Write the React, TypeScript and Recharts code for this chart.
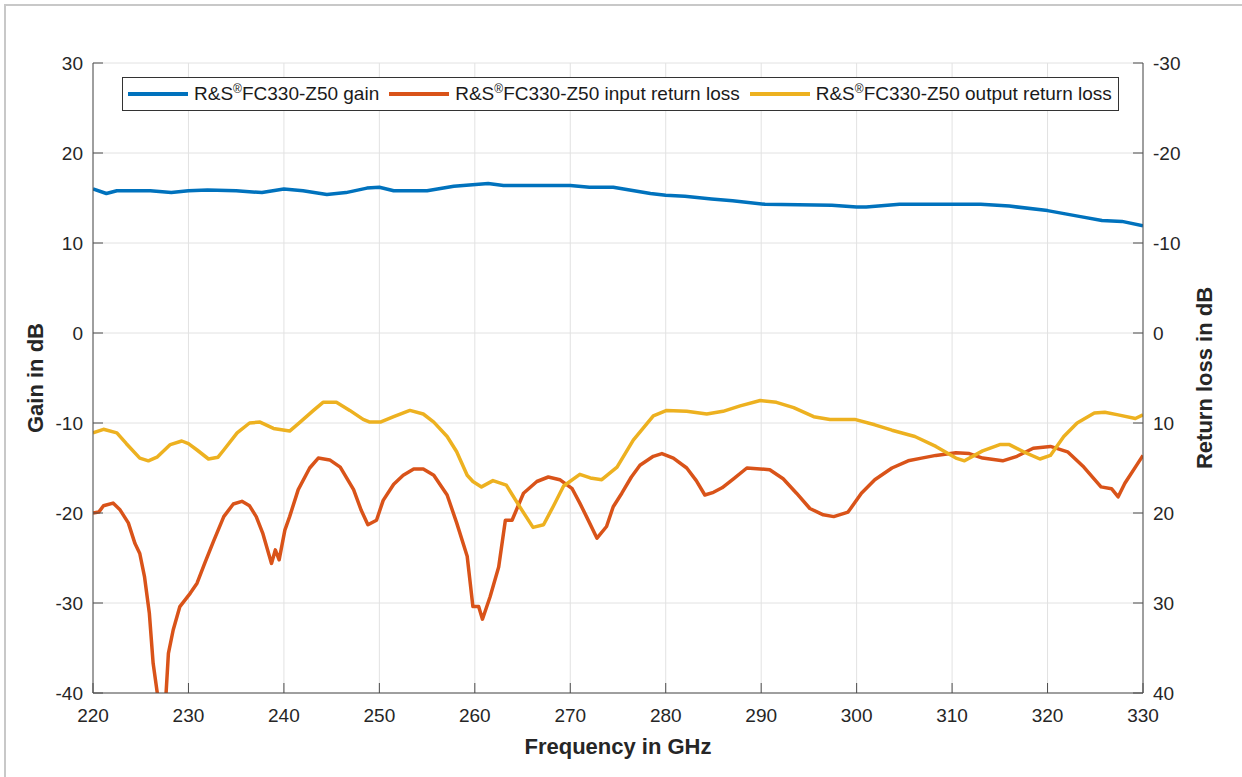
import React from 'react';
import { LineChart, Line, XAxis, YAxis, CartesianGrid, Legend, Label } from 'recharts';

const FONT = '"Liberation Sans", Arial, Helvetica, sans-serif';
const AXIS = '#4d4d4d';
const TEXT = '#262626';
const GRID = '#e2e2e2';

const seriesNames = [
    'R&S®FC330-Z50 gain',
    'R&S®FC330-Z50 input return loss',
    'R&S®FC330-Z50 output return loss',
];
const seriesColors = ['#0072BD', '#D95319', '#EDB120'];

const freqTicks = [220, 230, 240, 250, 260, 270, 280, 290, 300, 310, 320, 330];
const gainTicks = [-40, -30, -20, -10, 0, 10, 20, 30];
const lossTicks = [-30, -20, -10, 0, 10, 20, 30, 40];

// gain (left axis)
const gainFreq = [220, 221.4, 222.5, 226, 228.2, 230, 232, 235, 237.7, 240, 242, 244.5, 246.5, 248.7, 250, 251.5, 255, 257.8, 261.4, 263, 270, 272, 274.5, 278.4, 280, 282, 284.8, 287, 290.4, 297.4, 300, 301, 304.5, 310, 313, 316, 320, 323.6, 325.7, 327.8, 330];
const gainDb = [16.0, 15.5, 15.8, 15.8, 15.6, 15.8, 15.9, 15.8, 15.6, 16.0, 15.8, 15.4, 15.6, 16.1, 16.2, 15.8, 15.8, 16.3, 16.6, 16.4, 16.4, 16.2, 16.2, 15.5, 15.3, 15.2, 14.9, 14.7, 14.3, 14.2, 14.0, 14.0, 14.3, 14.3, 14.3, 14.1, 13.6, 12.9, 12.5, 12.4, 11.9];

// input return loss (right axis)
const inFreq = [220, 220.6, 221.1, 222.1, 222.8, 223.7, 224.4, 224.9, 225.4, 225.9, 226.3, 226.8, 227.2, 227.6, 227.9, 228.4, 229.1, 230.2, 230.9, 231.7, 232.6, 233.7, 234.7, 235.6, 236.4, 237.1, 237.8, 238.7, 239.1, 239.5, 240.1, 240.6, 241.5, 242.7, 243.6, 244.8, 245.9, 247.3, 248.1, 248.8, 249.7, 250.4, 251.5, 252.5, 253.6, 254.6, 255.7, 257.1, 258.1, 259.2, 259.8, 260.4, 260.8, 261.6, 262.5, 263.2, 263.9, 265.1, 266.5, 267.7, 268.9, 270.2, 271, 271.7, 272.8, 273.8, 274.5, 275.4, 276.4, 277.3, 278.7, 279.6, 280.8, 282.2, 283.2, 284.1, 285, 285.9, 287.1, 288.5, 289.9, 290.9, 292.3, 293.7, 295.1, 296.5, 297.6, 299.1, 300.5, 301.9, 303.7, 305.4, 306.8, 308.3, 310.4, 311.8, 313.2, 315.3, 316.8, 318.5, 320.3, 322.1, 323.8, 325.6, 326.7, 327.4, 328.1, 329.2, 330];
const inLoss = [20.0, 19.9, 19.2, 18.9, 19.6, 21.1, 23.4, 24.5, 27.1, 31.1, 36.7, 40.5, 43, 41, 35.6, 33.0, 30.4, 28.9, 27.8, 25.6, 23.2, 20.4, 19.0, 18.7, 19.2, 20.4, 22.3, 25.6, 24.1, 25.2, 21.9, 20.4, 17.4, 15.0, 13.9, 14.1, 14.9, 17.4, 19.7, 21.3, 20.8, 18.6, 16.8, 15.8, 15.1, 15.1, 15.8, 18.0, 21.1, 24.8, 30.4, 30.4, 31.8, 29.3, 26.0, 20.8, 20.8, 17.8, 16.5, 16.0, 16.3, 17.3, 18.9, 20.4, 22.8, 21.5, 19.3, 17.8, 16.0, 14.7, 13.7, 13.4, 13.9, 15.0, 16.4, 18.0, 17.7, 17.2, 16.2, 15.0, 15.1, 15.2, 16.2, 17.8, 19.5, 20.2, 20.4, 19.9, 17.8, 16.3, 15.0, 14.2, 13.9, 13.6, 13.3, 13.4, 13.9, 14.2, 13.7, 12.8, 12.6, 13.2, 14.9, 17.1, 17.3, 18.2, 16.7, 14.9, 13.6];

// output return loss (right axis)
const outFreq = [220, 221.1, 222.5, 223.5, 224.9, 225.8, 226.7, 228.1, 229.3, 230, 230.9, 232.1, 233.1, 233.7, 235.1, 236.4, 237.5, 238.9, 240.6, 241.7, 243.1, 244.1, 245.5, 246.9, 248.3, 249, 250.1, 251.5, 253.2, 254.6, 255.7, 257.1, 258.1, 259.2, 259.8, 260.7, 261.9, 263.3, 264.7, 266.1, 267.2, 268.2, 269.3, 271, 272.1, 273.3, 274.9, 276.6, 278.7, 280.1, 282.2, 284.3, 286, 287.8, 289.9, 291.6, 293.4, 295.5, 297.2, 299.8, 301.9, 303.7, 306.1, 308.3, 310.4, 311.3, 313.2, 315, 316, 317.5, 319.2, 320.3, 321.7, 323.1, 324.9, 326, 327.4, 329.2, 330];
const outLoss = [11.1, 10.7, 11.1, 12.3, 13.9, 14.2, 13.8, 12.4, 12.0, 12.3, 13.0, 14.0, 13.8, 13.0, 11.1, 10.0, 9.9, 10.6, 10.9, 9.9, 8.6, 7.7, 7.7, 8.6, 9.6, 9.9, 9.9, 9.3, 8.6, 9.0, 9.9, 11.5, 13.2, 15.8, 16.5, 17.1, 16.4, 16.9, 19.3, 21.6, 21.3, 19.3, 17.0, 15.7, 16.1, 16.3, 14.9, 11.9, 9.2, 8.6, 8.7, 9.0, 8.7, 8.1, 7.5, 7.7, 8.3, 9.3, 9.6, 9.6, 10.2, 10.8, 11.5, 12.6, 13.9, 14.2, 13.1, 12.4, 12.4, 13.2, 14.0, 13.6, 11.5, 10.0, 8.9, 8.8, 9.1, 9.5, 9.1];

const gainData = gainFreq.map((f, i) => ({ f, v: gainDb[i] }));
const inData = inFreq.map((f, i) => ({ f, v: inLoss[i] }));
const outData = outFreq.map((f, i) => ({ f, v: outLoss[i] }));

const TICK_FONT = 19;

const LeftTick = ({ x, y, payload }: any) => (
    <g>
        <line x1={x + 10} x2={x + 20} y1={y} y2={y} stroke={AXIS} />
        <text x={x} y={y} dy="0.35em" textAnchor="end" fill={TEXT} fontSize={TICK_FONT} fontFamily={FONT}>
            {payload.value}
        </text>
    </g>
);

const RightTick = ({ x, y, payload }: any) => (
    <g>
        <line x1={x - 10} x2={x - 20} y1={y} y2={y} stroke={AXIS} />
        <text x={x} y={y} dy="0.35em" textAnchor="start" fill={TEXT} fontSize={TICK_FONT} fontFamily={FONT}>
            {payload.value}
        </text>
    </g>
);

const BottomTick = ({ x, y, payload }: any) => (
    <g>
        <line x1={x} x2={x} y1={y - 16} y2={y - 26} stroke={AXIS} />
        <text x={x} y={y} dy="0.71em" textAnchor="middle" fill={TEXT} fontSize={TICK_FONT} fontFamily={FONT}>
            {payload.value}
        </text>
    </g>
);

const axisTitle = (text: string, dx: number, vertical: boolean) => (props: any) => {
    const vb = props.viewBox || { x: 0, y: 0, width: 0, height: 0 };
    const cx = vertical ? vb.x + dx : vb.x + vb.width / 2;
    const cy = vertical ? vb.y + vb.height / 2 : vb.y + dx;
    return (
        <text
            x={cx}
            y={cy}
            dy="0.35em"
            textAnchor="middle"
            fill={TEXT}
            fontSize={22}
            fontWeight="bold"
            fontFamily={FONT}
            transform={vertical ? `rotate(-90 ${cx} ${cy})` : undefined}
        >
            {text}
        </text>
    );
};

const renderLegend = () => (
    <div
        style={{
            display: 'flex',
            alignItems: 'center',
            border: '1px solid #333',
            background: '#fff',
            height: 34,
            padding: '0 6px 0 5px',
            boxSizing: 'border-box',
            fontFamily: FONT,
            fontSize: 19,
            color: '#1a1a1a',
            whiteSpace: 'nowrap',
        }}
    >
        {seriesNames.map((name, i) => {
            const [brand, rest] = name.split('®');
            return (
                <div key={name} style={{ display: 'flex', alignItems: 'center', marginRight: i < 2 ? 10 : 0 }}>
                    <span style={{ display: 'inline-block', width: 60, height: 4, background: seriesColors[i], marginRight: 6 }} />
                    <span>
                        {brand}
                        <sup style={{ fontSize: 12 }}>®</sup>
                        {rest}
                    </span>
                </div>
            );
        })}
    </div>
);

export default function App() {
    return (
        <div style={{ position: 'absolute', left: 0, top: 0, width: 1242, height: 777, background: '#fff', overflow: 'hidden' }}>
            <div
                style={{
                    position: 'absolute',
                    left: 4,
                    top: 4,
                    right: 0,
                    bottom: 0,
                    borderLeft: '2px solid #c8c8c8',
                    borderTop: '2px solid #c8c8c8',
                }}
            />
            <LineChart
                width={1242}
                height={777}
                margin={{ top: 63, right: 0, bottom: 0, left: 0 }}
                style={{ position: 'absolute', left: 0, top: 0 }}
            >
                <CartesianGrid stroke={GRID} yAxisId="left" />
                <XAxis
                    dataKey="f"
                    type="number"
                    domain={[220, 330]}
                    ticks={freqTicks}
                    interval={0}
                    allowDataOverflow
                    height={84}
                    tickSize={0}
                    tickMargin={16}
                    tickLine={false}
                    axisLine={{ stroke: AXIS }}
                    tick={<BottomTick />}
                >
                    <Label content={axisTitle('Frequency in GHz', 53, false)} />
                </XAxis>
                <YAxis
                    yAxisId="left"
                    orientation="left"
                    type="number"
                    domain={[-40, 30]}
                    ticks={gainTicks}
                    interval={0}
                    width={93}
                    tickSize={0}
                    tickMargin={10}
                    tickLine={false}
                    axisLine={{ stroke: AXIS }}
                    tick={<LeftTick />}
                >
                    <Label content={axisTitle('Gain in dB', 35, true)} />
                </YAxis>
                <YAxis
                    yAxisId="right"
                    orientation="right"
                    type="number"
                    domain={[-30, 40]}
                    reversed
                    allowDataOverflow
                    ticks={lossTicks}
                    interval={0}
                    width={99}
                    tickSize={0}
                    tickMargin={10}
                    tickLine={false}
                    axisLine={{ stroke: AXIS }}
                    tick={<RightTick />}
                >
                    <Label content={axisTitle('Return loss in dB', 61, true)} />
                </YAxis>
                <Legend
                    layout="vertical"
                    align="center"
                    verticalAlign="middle"
                    content={renderLegend}
                    wrapperStyle={{ left: 122, top: 77, width: 'auto', height: 'auto' }}
                />
                <Line
                    yAxisId="left"
                    data={gainData}
                    dataKey="v"
                    type="linear"
                    stroke={seriesColors[0]}
                    strokeWidth={3.5}
                    dot={false}
                    strokeLinejoin="round"
                    isAnimationActive={false}
                />
                <Line
                    yAxisId="right"
                    data={inData}
                    dataKey="v"
                    type="linear"
                    stroke={seriesColors[1]}
                    strokeWidth={3.5}
                    dot={false}
                    strokeLinejoin="round"
                    isAnimationActive={false}
                />
                <Line
                    yAxisId="right"
                    data={outData}
                    dataKey="v"
                    type="linear"
                    stroke={seriesColors[2]}
                    strokeWidth={3.5}
                    dot={false}
                    strokeLinejoin="round"
                    isAnimationActive={false}
                />
            </LineChart>
        </div>
    );
}
